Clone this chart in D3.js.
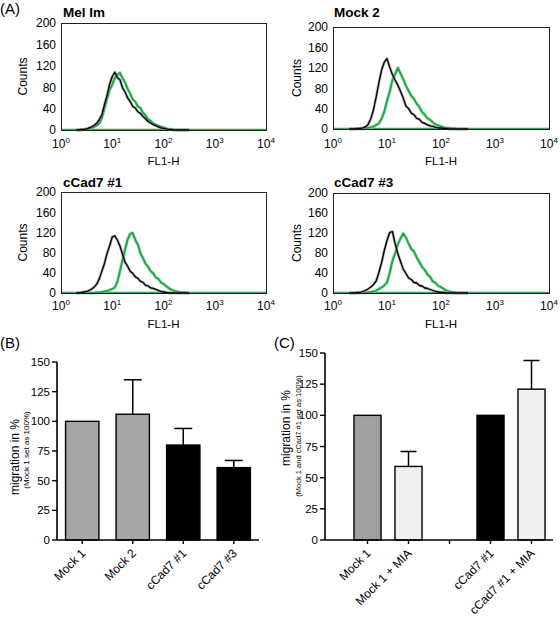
<!DOCTYPE html>
<html><head><meta charset="utf-8">
<script src="https://cdn.jsdelivr.net/npm/d3@7"></script>
<style>body{margin:0;background:#fff}svg{display:block}text{font-family:"Liberation Sans",Arial,sans-serif;fill:#000}</style>
</head><body><svg id="c" width="560" height="617"></svg>
<script>
// ---------- DATA ----------
const binLogs = [0.30,0.35,0.40,0.45,0.50,0.55,0.60,0.65,0.70,0.75,0.80,0.85,0.90,0.95,1.00,1.05,1.10,1.15,1.20,1.25,1.30,1.35,1.40,1.45,1.50,1.55,1.60,1.65,1.70,1.75,1.80,1.85,1.90,1.95,2.00,2.05,2.10,2.15,2.20,2.25,2.30,2.35,2.40,2.45,2.50];
const melBlack  = [0,0,1,1,2,4,6,9,13,20,29,48,65,86,100,108,98,94,79,71,60,53,44,41,34,31,25,21,16,13,10,8,6,4,3,2,1,1,0,0,0,0,0,0,0];
const melGreen  = [0,0,0,1,1,2,4,6,9,13,23,41,59,75,85,97,103,107,97,89,77,68,57,53,44,41,32,27,20,17,12,10,8,6,5,3,1,1,0,0,0,0,0,0,0];
const mock2Black= [0,0,0,1,1,2,4,9,20,38,63,91,116,131,138,121,107,96,86,74,61,45,40,31,28,21,19,13,11,8,6,5,3,2,2,1,1,0,0,0,0,0,0,0,0];
const mock2Green= [0,0,0,0,0,0,1,2,3,5,8,11,20,34,55,73,96,107,120,109,98,85,75,65,59,50,43,33,28,21,18,13,9,7,5,3,2,2,1,1,0,0,0,0,0];
const c1Black   = [0,0,1,2,3,5,8,12,18,29,44,59,79,94,111,113,105,93,77,61,53,43,39,32,29,23,21,15,14,10,9,7,5,3,2,1,0,0,0,0,0,0,0,0,0];
const c1Green   = [0,0,0,0,0,0,0,0,1,1,2,3,4,6,8,11,22,43,65,86,106,117,119,105,96,79,69,58,52,43,39,31,28,21,18,14,10,7,5,3,2,1,1,0,0];
const c3Black   = [0,0,0,1,1,3,5,8,12,17,24,41,61,85,105,121,123,99,79,63,48,39,30,27,21,20,15,14,10,9,7,5,3,2,1,1,0,0,0,0,0,0,0,0,0];
const c3Green   = [0,0,0,0,0,0,0,1,2,3,5,8,11,15,21,40,64,79,97,109,119,111,99,88,83,71,62,52,46,37,32,23,20,14,12,8,5,3,2,1,0,0,0,0,0];
const histTitles = ["Mel Im","Mock 2","cCad7 #1","cCad7 #3"];
const histYTicks = [0,40,80,120,160,200];
const histXTicks = [1,10,100,1000,10000];
const histXExp   = ["0","1","2","3","4"];

const bCats   = ["Mock 1","Mock 2","cCad7 #1","cCad7 #3"];
const bValues = [100,106,80,61];
const bErrors = [null,135,94,67];
const bFills  = ["#a6a6a6","#a6a6a6","#000000","#000000"];

const cCats   = ["Mock 1","Mock 1 + MIA","gap","cCad7 #1","cCad7 #1 + MIA"];
const cLabels = ["Mock 1","Mock 1 + MIA","","cCad7 #1","cCad7 #1 + MIA"];
const cValues = [100,59,null,100,121];
const cErrors = [null,71,null,null,144];
const cFills  = ["#a0a0a0","#f0f0f0",null,"#000000","#f0f0f0"];
const barYTicks = [0,25,50,75,100,125,150];

// ---------- DRAW ----------
const svg = d3.select("#c");

svg.append("text").attr("x",0).attr("y",14).attr("font-size",15).text("(A)");

const panels = [
  {black:melBlack, green:melGreen, x0:61, x1:266, y0:23, y1:130, tx:63, ty:17, lab:148, fl:165, cx:27},
  {black:mock2Black, green:mock2Green, x0:333, x1:549, y0:27, y1:129, tx:334, ty:17, lab:148, fl:165, cx:301},
  {black:c1Black, green:c1Green, x0:61, x1:266, y0:192, y1:293, tx:63, ty:187, lab:310, fl:328, cx:27},
  {black:c3Black, green:c3Green, x0:333, x1:549, y0:193, y1:293, tx:334, ty:187, lab:310, fl:328, cx:301}
];

panels.forEach((p,i)=>{
  const g = svg.append("g");
  const xs = d3.scaleLog().domain([1,10000]).range([p.x0,p.x1]);
  const ys = d3.scaleLinear().domain([0,200]).range([p.y1,p.y0]);
  g.append("text").attr("x",p.tx).attr("y",p.ty).attr("font-size",13.5).attr("font-weight","bold").text(histTitles[i]);
  g.selectAll(".yl").data(histYTicks).join("text")
    .attr("x",p.x0-5).attr("y",d=>ys(d)).attr("dy","0.36em").attr("text-anchor","end")
    .attr("font-size",12).text(d=>d);
  histXTicks.forEach((t,k)=>{
    const tx = g.append("text").attr("x",xs(t)).attr("y",p.lab).attr("text-anchor","middle").attr("font-size",12);
    tx.append("tspan").text("10");
    tx.append("tspan").attr("dy",-5).attr("font-size",8).text(histXExp[k]);
  });
  g.append("text").attr("x",(p.x0+p.x1)/2).attr("y",p.fl).attr("text-anchor","middle").attr("font-size",11.5).text("FL1-H");
  g.append("text").attr("transform",`translate(${p.cx},${(p.y0+p.y1)/2}) rotate(-90)`).attr("text-anchor","middle").attr("font-size",12).text("Counts");
  // zero-count baseline across whole range
  g.append("line").attr("x1",xs(1)).attr("x2",xs(10000)).attr("y1",ys(0)-0.7).attr("y2",ys(0)-0.7).attr("stroke","#3aa655").attr("stroke-width",1.3);
  const line = d3.line().x((d,j)=>xs(Math.pow(10,binLogs[j]))).y(d=>ys(d));
  g.append("path").attr("d",line(p.green)).attr("fill","none").attr("stroke","#86d39a").attr("stroke-width",3.2).attr("stroke-linejoin","round").attr("stroke-opacity",0.8);
  g.append("path").attr("d",line(p.green)).attr("fill","none").attr("stroke","#1fa646").attr("stroke-width",1.8).attr("stroke-linejoin","round");
  g.append("path").attr("d",line(p.black)).attr("fill","none").attr("stroke","#8a8a8a").attr("stroke-width",2.8).attr("stroke-opacity",0.7).attr("stroke-linejoin","round");
  g.append("path").attr("d",line(p.black)).attr("fill","none").attr("stroke","#000").attr("stroke-width",1.3).attr("stroke-linejoin","round");
  g.append("rect").attr("x",p.x0+0.5).attr("y",p.y0+0.5).attr("width",p.x1-p.x0).attr("height",p.y1-p.y0)
    .attr("fill","none").attr("stroke","#222").attr("stroke-width",1);
});

// ---------- BAR CHARTS ----------
function barChart(o){
  const g = svg.append("g");
  const xs = d3.scaleBand().domain(o.cats).range(o.range).paddingInner(0.34).paddingOuter(0.17);
  const ys = d3.scaleLinear().domain([0,150]).range([540,o.yTop]);
  g.append("line").attr("x1",o.axisX).attr("x2",o.axisX).attr("y1",ys(150)).attr("y2",ys(0)).attr("stroke","#000").attr("stroke-width",1.6);
  g.selectAll(".yt").data(barYTicks).join("line")
    .attr("x1",o.axisX-5).attr("x2",o.axisX).attr("y1",d=>ys(d)).attr("y2",d=>ys(d)).attr("stroke","#000").attr("stroke-width",1.4);
  g.selectAll(".yl").data(barYTicks).join("text")
    .attr("x",o.axisX-7).attr("y",d=>ys(d)).attr("dy","0.36em").attr("text-anchor","end").attr("font-size",11.5).text(d=>d);
  o.cats.forEach((c,i)=>{
    if(o.values[i]==null) return;
    const x = xs(c), w = xs.bandwidth();
    if(o.errors[i]!=null){
      const cx = x+w/2;
      g.append("line").attr("x1",cx).attr("x2",cx).attr("y1",ys(o.values[i])).attr("y2",ys(o.errors[i])).attr("stroke","#000").attr("stroke-width",1.5);
      g.append("line").attr("x1",cx-o.cap/2).attr("x2",cx+o.cap/2).attr("y1",ys(o.errors[i])).attr("y2",ys(o.errors[i])).attr("stroke","#000").attr("stroke-width",1.5);
    }
    g.append("rect").attr("x",x).attr("y",ys(o.values[i])).attr("width",w).attr("height",ys(0)-ys(o.values[i]))
      .attr("fill",o.fills[i]).attr("stroke","#000").attr("stroke-width",1.4);
  });
  g.append("line").attr("x1",o.axisX).attr("x2",o.axisEnd).attr("y1",540).attr("y2",540).attr("stroke","#000").attr("stroke-width",1.6);
  o.cats.forEach((c,i)=>{
    const cx = xs(c)+xs.bandwidth()/2;
    g.append("line").attr("x1",cx).attr("x2",cx).attr("y1",540).attr("y2",544).attr("stroke","#000").attr("stroke-width",1.4);
    g.append("text").attr("transform",`translate(${cx+4},554) rotate(-45)`).attr("text-anchor","end").attr("font-size",12).text(o.labels[i]);
  });
  g.append("text").attr("x",o.panelX).attr("y",348).attr("font-size",15).text(o.panel);
  g.append("text").attr("transform",`translate(${o.lab1X},${o.lab1Y}) rotate(-90)`).attr("text-anchor","middle").attr("font-size",12).text("migration in %");
  g.append("text").attr("transform",`translate(${o.lab2X},${o.lab2Y}) rotate(-90)`).attr("text-anchor","middle").attr("font-size",o.smallSize).text(o.small);
}

barChart({cats:bCats, labels:bCats, values:bValues, errors:bErrors, fills:bFills,
  range:[57,259], yTop:362, axisX:57, axisEnd:259, cap:18, panel:"(B)", panelX:0,
  lab1X:19, lab1Y:457, lab2X:28.5, lab2Y:450, small:"(Mock 1 set as 100%)", smallSize:8});
barChart({cats:cCats, labels:cLabels, values:cValues, errors:cErrors, fills:cFills,
  range:[347,552], yTop:353, axisX:325, axisEnd:553, cap:16, panel:"(C)", panelX:274,
  lab1X:290, lab1Y:428, lab2X:301, lab2Y:436, small:"(Mock 1 and cCad7 #1 set as 100%)", smallSize:7.5});
</script>
</body></html>
